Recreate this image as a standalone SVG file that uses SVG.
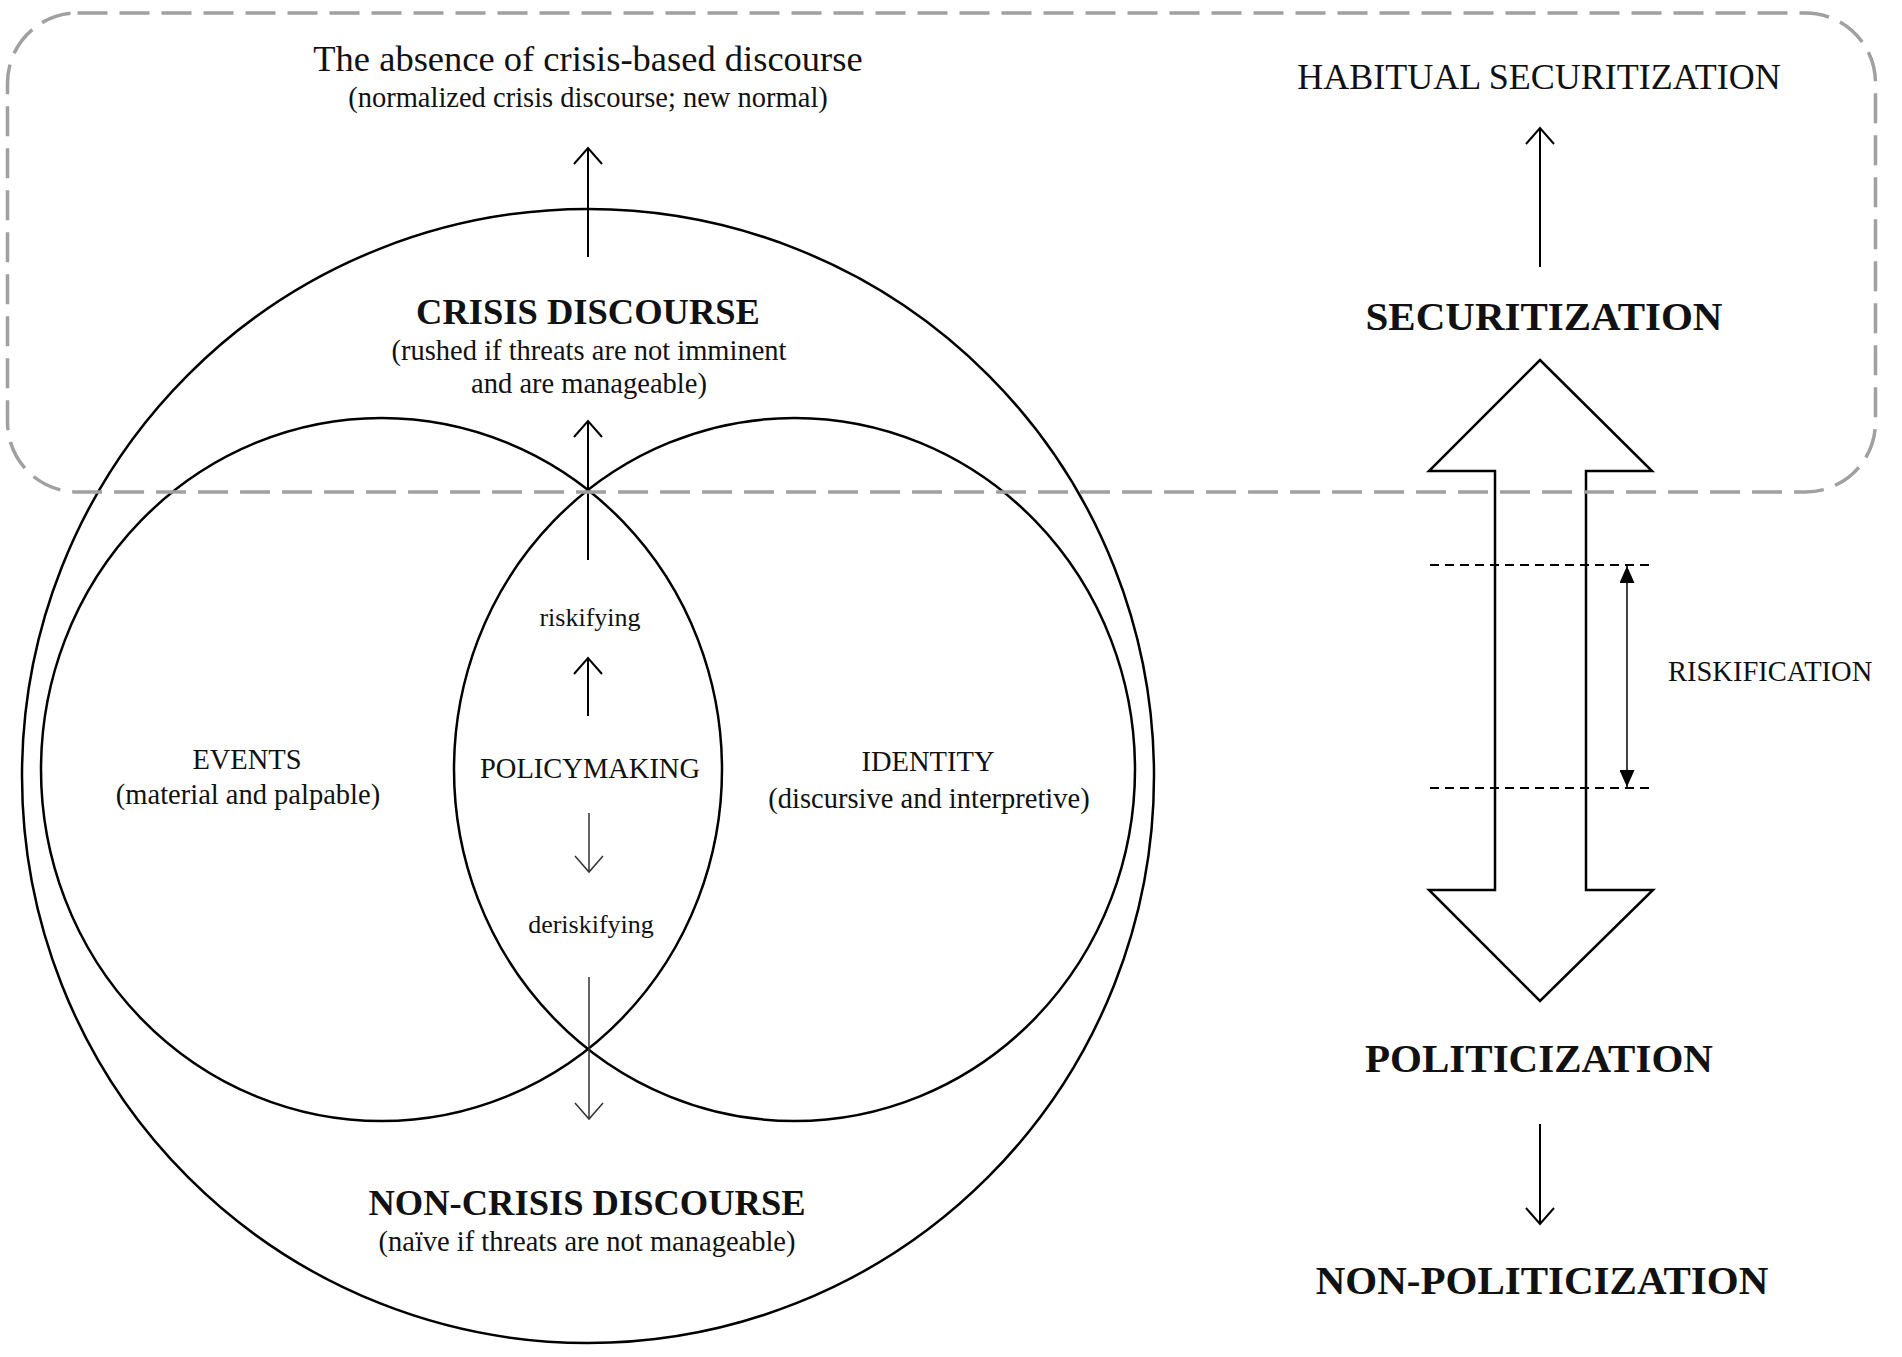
<svg xmlns="http://www.w3.org/2000/svg" width="1902" height="1357" viewBox="0 0 1902 1357">
<style>
  text { font-family: "Liberation Serif", "Times New Roman", serif; fill: #111; text-anchor: middle; }
  .b { font-weight: bold; }
  .sub { font-size: 28.5px; }
  .shape { fill: none; stroke: #000; stroke-width: 2.5; }
  .arr { fill: none; stroke: #000; stroke-width: 2; }
  .thin { fill: none; stroke: #333; stroke-width: 1.5; }
  .dash { fill: none; stroke: #000; stroke-width: 2; stroke-dasharray: 9 6; }
  .frame { fill: none; stroke: #a0a0a0; stroke-width: 3.5; stroke-dasharray: 30 12; }
</style>
<defs>
  <marker id="open" markerUnits="userSpaceOnUse" markerWidth="22" markerHeight="32" refX="18" refY="15" orient="auto" viewBox="0 0 22 32">
    <path d="M2,1 L18,15 L2,29" fill="none" stroke="#000" stroke-width="2"/>
  </marker>
  <marker id="openthin" markerUnits="userSpaceOnUse" markerWidth="22" markerHeight="32" refX="18" refY="15" orient="auto" viewBox="0 0 22 32">
    <path d="M2,1 L18,15 L2,29" fill="none" stroke="#333" stroke-width="1.5"/>
  </marker>
  <marker id="solid" markerUnits="userSpaceOnUse" markerWidth="17" markerHeight="15" refX="17" refY="7.5" orient="auto-start-reverse" viewBox="0 0 17 15">
    <path d="M0,0 L17,7.5 L0,15 Z" fill="#000"/>
  </marker>
</defs>

<g id="outer-circle">
  <ellipse class="shape" cx="588" cy="776" rx="566" ry="567"/>
</g>
<g id="events-circle">
  <ellipse class="shape" cx="381.5" cy="769.5" rx="340.5" ry="351.5"/>
  <text x="247" y="769" class="sub">EVENTS</text>
  <text x="248" y="804" class="sub">(material and palpable)</text>
</g>
<g id="identity-circle">
  <ellipse class="shape" cx="794.5" cy="769.5" rx="340.5" ry="351.5"/>
  <text x="928" y="771" class="sub">IDENTITY</text>
  <text x="929" y="808" class="sub">(discursive and interpretive)</text>
</g>

<g id="absence">
  <text x="588" y="71" style="font-size:36.5px">The absence of crisis-based discourse</text>
  <text x="588" y="107" class="sub">(normalized crisis discourse; new normal)</text>
</g>
<g id="crisis-discourse">
  <text x="588" y="324" class="b" style="font-size:36.5px">CRISIS DISCOURSE</text>
  <text x="589" y="360" class="sub">(rushed if threats are not imminent</text>
  <text x="589" y="393" class="sub">and are manageable)</text>
</g>
<g id="policymaking">
  <text x="590" y="626" style="font-size:26px">riskifying</text>
  <text x="590" y="778" class="sub">POLICYMAKING</text>
  <text x="591" y="933" style="font-size:26px">deriskifying</text>
</g>
<g id="non-crisis-discourse">
  <text x="587" y="1215" class="b" style="font-size:36.5px">NON-CRISIS DISCOURSE</text>
  <text x="587" y="1251" class="sub">(naïve if threats are not manageable)</text>
</g>

<g id="habitual-securitization">
  <text x="1539" y="89" style="font-size:36px">HABITUAL SECURITIZATION</text>
</g>
<g id="securitization">
  <text x="1544" y="330" class="b" style="font-size:41px">SECURITIZATION</text>
</g>
<g id="double-arrow">
  <polygon class="shape" points="1540,360 1652,471 1586,471 1586,890 1653,890 1540,1001 1429,890 1495,890 1495,471 1429,471"/>
</g>
<g id="riskification">
  <line class="dash" x1="1430" y1="565" x2="1652" y2="565"/>
  <line class="dash" x1="1430" y1="788" x2="1652" y2="788"/>
  <line x1="1627" y1="566" x2="1627" y2="787" stroke="#000" stroke-width="1.5" marker-start="url(#solid)" marker-end="url(#solid)"/>
  <text x="1668" y="681" class="sub" style="text-anchor:start">RISKIFICATION</text>
</g>
<g id="politicization">
  <text x="1539" y="1072" class="b" style="font-size:41px">POLITICIZATION</text>
</g>
<g id="non-politicization">
  <text x="1542" y="1294" class="b" style="font-size:41px">NON-POLITICIZATION</text>
</g>

<g id="connectors">
  <line class="arr" x1="588" y1="257" x2="588" y2="148" marker-end="url(#open)"/>
  <line class="arr" x1="588" y1="560" x2="588" y2="421" marker-end="url(#open)"/>
  <line class="arr" x1="588" y1="716" x2="588" y2="658" marker-end="url(#open)"/>
  <line class="thin" x1="589" y1="813" x2="589" y2="872" marker-end="url(#openthin)"/>
  <line class="thin" x1="589" y1="977" x2="589" y2="1119" marker-end="url(#openthin)"/>
  <line class="arr" x1="1540" y1="267" x2="1540" y2="128" marker-end="url(#open)"/>
  <line class="arr" x1="1540" y1="1124" x2="1540" y2="1224" marker-end="url(#open)"/>
</g>

<g id="habitual-zone">
  <rect class="frame" x="7.5" y="13" width="1868" height="479" rx="70" ry="70"/>
</g>
</svg>
